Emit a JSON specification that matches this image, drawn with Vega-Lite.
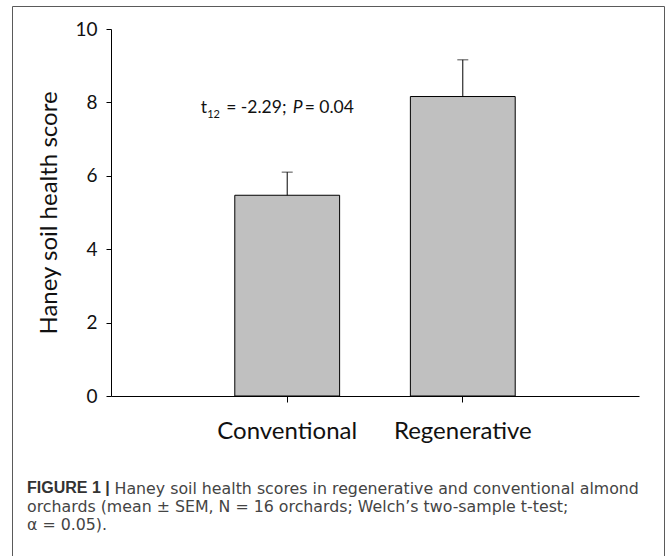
{
  "$schema": "https://vega.github.io/schema/vega-lite/v6.json",
  "width": 652,
  "height": 550,
  "autosize": "none",
  "padding": {"left": 12, "top": 6, "right": 3, "bottom": 0},
  "background": "white",
  "config": {
    "view": {"stroke": "#5a5a5a", "strokeWidth": 1, "fill": "white"},
    "font": "Lato",
    "axis": {"grid": false, "domainColor": "#000000", "tickColor": "#000000", "labelColor": "#111111", "titleColor": "#111111", "domainWidth": 1, "tickWidth": 1}
  },
  "title": {
    "text": "FIGURE 1 |",
    "subtitle": ["orchards (mean ± SEM, N = 16 orchards; Welch’s two-sample t-test;", "α = 0.05)."],
    "orient": "bottom",
    "anchor": "start",
    "frame": "group",
    "offset": -63.5,
    "dx": 15,
    "baseline": "alphabetic",
    "font": "Liberation Sans",
    "fontSize": 16,
    "fontWeight": "bold",
    "color": "#333333",
    "subtitleFont": "DejaVu Sans",
    "subtitleFontSize": 15.8,
    "subtitleFontWeight": "normal",
    "subtitleColor": "#444444",
    "subtitleLineHeight": 18.7,
    "subtitlePadding": 3
  },
  "datasets": {
    "scores": [
      {"group": "Conventional", "mean": 5.47, "upper": 6.10},
      {"group": "Regenerative", "mean": 8.16, "upper": 9.16}
    ]
  },
  "data": {"name": "scores"},
  "layer": [
    {
      "mark": {"type": "bar", "fill": "#c0c0c0", "stroke": "#000000", "strokeWidth": 1},
      "encoding": {
        "x": {
          "field": "group", "type": "nominal",
          "scale": {"domain": ["Conventional", "Regenerative"], "range": [99, 627], "paddingInner": 0.403, "paddingOuter": 0.705},
          "axis": {
            "orient": "bottom", "offset": -160, "labelAngle": 0, "labelFontSize": 24, "labelPadding": 17, "tickSize": 6,
            "title": "Haney soil health scores in regenerative and conventional almond",
            "titleX": 102, "titleY": 97, "titleAlign": "left", "titleBaseline": "alphabetic", "titleAngle": 0,
            "titleFont": "DejaVu Sans", "titleFontSize": 15.8, "titleFontWeight": "normal", "titleColor": "#444444"
          }
        },
        "y": {
          "field": "mean", "type": "quantitative",
          "scale": {"domain": [0, 10], "range": [390, 23], "nice": false},
          "axis": {
            "orient": "left", "offset": -99, "values": [0, 2, 4, 6, 8, 10], "tickSize": 5,
            "labelFontSize": 19, "labelPadding": 9,
            "title": "Haney soil health score", "titleFontSize": 24, "titleFontWeight": "normal", "titlePadding": 13
          }
        }
      }
    },
    {
      "mark": {"type": "rule", "color": "#000000", "strokeWidth": 1},
      "encoding": {
        "x": {"field": "group", "type": "nominal"},
        "y": {"field": "mean", "type": "quantitative"},
        "y2": {"field": "upper"}
      }
    },
    {
      "mark": {"type": "tick", "color": "#000000", "size": 11, "thickness": 1},
      "encoding": {
        "x": {"field": "group", "type": "nominal"},
        "y": {"field": "upper", "type": "quantitative"}
      }
    },
    {
      "data": {"values": [{}]},
      "mark": {"type": "text", "text": "t", "align": "left", "baseline": "alphabetic", "fontSize": 17.5, "dx": -86.5, "dy": 11, "color": "#111111"},
      "encoding": {"x": {"datum": "Conventional", "type": "nominal"}, "y": {"datum": 8, "type": "quantitative"}}
    },
    {
      "data": {"values": [{}]},
      "mark": {"type": "text", "text": "12", "align": "left", "baseline": "alphabetic", "fontSize": 11, "dx": -80, "dy": 16, "color": "#111111"},
      "encoding": {"x": {"datum": "Conventional", "type": "nominal"}, "y": {"datum": 8, "type": "quantitative"}}
    },
    {
      "data": {"values": [{}]},
      "mark": {"type": "text", "text": "= -2.29;", "align": "left", "baseline": "alphabetic", "fontSize": 17.5, "dx": -61, "dy": 11, "color": "#111111"},
      "encoding": {"x": {"datum": "Conventional", "type": "nominal"}, "y": {"datum": 8, "type": "quantitative"}}
    },
    {
      "data": {"values": [{}]},
      "mark": {"type": "text", "text": "P", "align": "left", "baseline": "alphabetic", "fontSize": 17.5, "fontStyle": "italic", "dx": 5.5, "dy": 11, "color": "#111111"},
      "encoding": {"x": {"datum": "Conventional", "type": "nominal"}, "y": {"datum": 8, "type": "quantitative"}}
    },
    {
      "data": {"values": [{}]},
      "mark": {"type": "text", "text": "= 0.04", "align": "left", "baseline": "alphabetic", "fontSize": 17.5, "dx": 17.5, "dy": 11, "color": "#111111"},
      "encoding": {"x": {"datum": "Conventional", "type": "nominal"}, "y": {"datum": 8, "type": "quantitative"}}
    }
  ]
}
